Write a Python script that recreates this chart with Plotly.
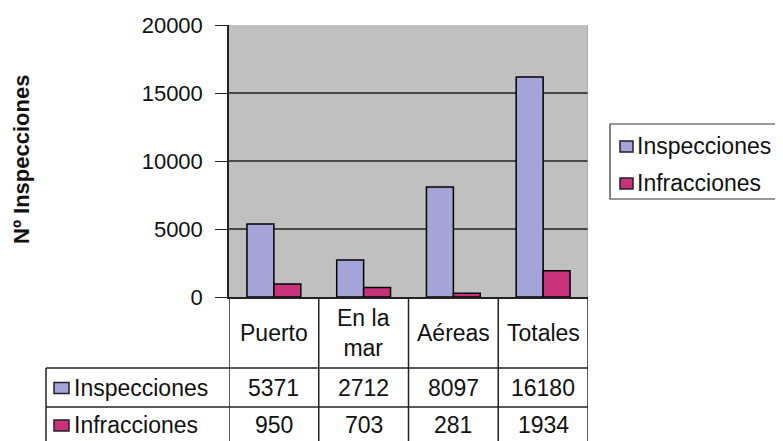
import plotly.graph_objects as go

# page has an 8px body margin, so the figure is offset by 8px
OFF = 8
W, H = 783 - OFF, 441 - OFF
categories = ["Puerto", "En la<br>mar", "Aéreas", "Totales"]
series_names = ["Inspecciones", "Infracciones"]
inspecciones = [5371, 2712, 8097, 16180]
infracciones = [950, 703, 281, 1934]
series_values = [inspecciones, infracciones]
colors = ["#A4A4D8", "#C8327A"]
y_ticks = [0, 5000, 10000, 15000, 20000]
grid_vals = [5000, 10000, 15000]
y_title = "Nº Inspecciones"

FONT = "Liberation Sans, Arial, sans-serif"
TXT = "#111111"
FS = 23

def px(x):
    return (x - OFF) / W

def py(y):
    return 1 - (y - OFF) / H

x_idx = list(range(len(categories)))

fig = go.Figure()
for name, vals, col in zip(series_names, series_values, colors):
    fig.add_trace(go.Bar(
        x=x_idx, y=vals, name=name,
        marker=dict(color=col, line=dict(color="black", width=1.5)),
        showlegend=False,
    ))

shapes = []
annotations = []

# gridlines
for g in grid_vals:
    shapes.append(dict(type="line", xref="x", yref="y", x0=-0.5, x1=3.5, y0=g, y1=g,
                       line=dict(color="#222", width=1.3), layer="below"))

# right edge of plot area
shapes.append(dict(type="line", xref="x", yref="y", x0=3.5, x1=3.5, y0=0, y1=20000,
                   line=dict(color="#999", width=1), layer="below"))

# table geometry
t_left = 46
hdr_bot = 368
row1_bot = 407
t_bot = 441
axis_y = 297

# vertical lines at category boundaries
for i in range(len(categories) + 1):
    shapes.append(dict(type="line", xref="x", yref="paper", x0=i - 0.5, x1=i - 0.5,
                       y0=py(axis_y), y1=py(t_bot), line=dict(color="#222", width=1.5)))
# left border of row labels
shapes.append(dict(type="line", xref="paper", yref="paper", x0=px(t_left), x1=px(t_left),
                   y0=py(hdr_bot), y1=py(t_bot), line=dict(color="#222", width=1.5)))
# horizontal lines
for yy in [hdr_bot, row1_bot]:
    shapes.append(dict(type="line", xref="paper", yref="paper", x0=px(t_left), x1=px(588),
                       y0=py(yy), y1=py(yy), line=dict(color="#222", width=1.5)))

# header labels
for i, c in enumerate(categories):
    annotations.append(dict(x=i, y=py((axis_y + hdr_bot) / 2), xref="x", yref="paper",
                            text=c, showarrow=False, xanchor="center", yanchor="middle",
                            font=dict(family=FONT, size=FS, color=TXT)))

row_centers = [(hdr_bot + row1_bot) / 2, (row1_bot + t_bot) / 2 + 1]
for r, (name, vals, col) in enumerate(zip(series_names, series_values, colors)):
    yc = row_centers[r]
    shapes.append(dict(type="rect", xref="paper", yref="paper", x0=px(54), x1=px(69),
                       y0=py(yc - 5), y1=py(yc + 6), fillcolor=col,
                       line=dict(color="#222", width=1.5)))
    annotations.append(dict(x=px(72), y=py(yc), xref="paper", yref="paper", text=name,
                            showarrow=False, xanchor="left", yanchor="middle",
                            font=dict(family=FONT, size=FS, color=TXT)))
    for i, v in enumerate(vals):
        annotations.append(dict(x=i, y=py(yc), xref="x", yref="paper", text=str(v),
                                showarrow=False, xanchor="center", yanchor="middle",
                                font=dict(family=FONT, size=FS, color=TXT)))

# manual legend
shapes.append(dict(type="rect", xref="paper", yref="paper", x0=px(610), x1=px(781),
                   y0=py(124), y1=py(199), line=dict(color="#333", width=1.2),
                   fillcolor="white"))
leg_y = [146, 183]
for name, col, yc in zip(series_names, colors, leg_y):
    shapes.append(dict(type="rect", xref="paper", yref="paper", x0=px(620), x1=px(633),
                       y0=py(yc - 5), y1=py(yc + 6), fillcolor=col,
                       line=dict(color="#222", width=1.5)))
    annotations.append(dict(x=px(635), y=py(yc), xref="paper", yref="paper", text=name,
                            showarrow=False, xanchor="left", yanchor="middle",
                            font=dict(family=FONT, size=FS, color=TXT)))

# y title
annotations.append(dict(x=px(22), y=py(160), xref="paper", yref="paper", text="<b>" + y_title + "</b>",
                        showarrow=False, textangle=-90, xanchor="center", yanchor="middle",
                        font=dict(family=FONT, size=22, color=TXT)))

fig.update_layout(
    width=W, height=H,
    margin=dict(l=0, r=0, t=0, b=0, pad=0, autoexpand=False),
    paper_bgcolor="white",
    plot_bgcolor="#C0C0C0",
    barmode="group",
    bargap=0.4,
    bargroupgap=0,
    shapes=shapes,
    annotations=annotations,
    xaxis=dict(domain=[px(229), px(588)], range=[-0.5, 3.5], showticklabels=False,
               showgrid=False, zeroline=False, showline=True, linecolor="#222", linewidth=1.5,
               ticks="", automargin=False),
    yaxis=dict(domain=[py(axis_y), py(25)], range=[0, 20000], tickvals=y_ticks,
               tickformat="d", automargin=False,
               showgrid=False, zeroline=False, showline=True, linecolor="#222", linewidth=1.5,
               ticks="outside", ticklen=12, tickcolor="#222", tickwidth=1.3,
               ticklabelstandoff=8,
               tickfont=dict(family=FONT, size=22, color=TXT)),
)

fig.write_html("out.html")
